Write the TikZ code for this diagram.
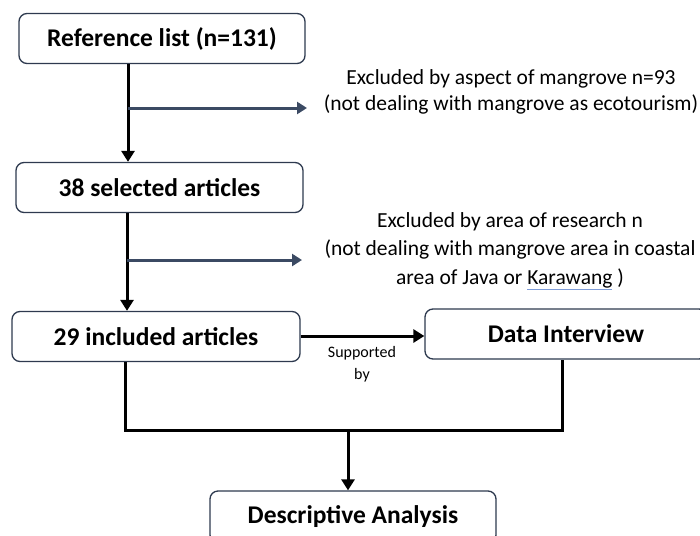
\documentclass[tikz,border=0pt]{standalone}
\usepackage{fontspec}
\setmainfont{Carlito}
\usetikzlibrary{arrows.meta}
\definecolor{navy}{HTML}{2E3A4F}
\definecolor{branch}{HTML}{3B4A63}
\definecolor{squig}{HTML}{7E9CD8}
\begin{document}
\begin{tikzpicture}[x=1pt,y=-1pt,
  box/.style={draw=navy,line width=1.3pt,rounded corners=8pt,fill=white,inner sep=0pt,font=\fontsize{25.5}{30}\selectfont\bfseries},
  flow/.style={draw=black,line width=3pt,-{Triangle[length=11pt,width=13pt]}},
  plain/.style={draw=black,line width=3pt},
  side/.style={draw=branch,line width=3pt,-{Triangle[length=10pt,width=12pt]}},
  note/.style={align=center,font=\fontsize{21.5}{26}\selectfont,inner sep=0pt}]
\useasboundingbox (0,0) rectangle (700,535);
\node[box,minimum width=286pt,minimum height=50pt] (ref) at (162,38.5) {Reference list (n=131)};
\node[box,minimum width=287pt,minimum height=50pt] (sel) at (159.5,187.5) {38 selected articles};
\node[box,minimum width=288pt,minimum height=50pt] (inc) at (156,336.5) {29 included articles};
\node[box,minimum width=282pt,minimum height=50pt] (dat) at (566,334) {Data Interview};
\node[box,minimum width=286pt,minimum height=52pt] (des) at (353,517) {Descriptive Analysis};
\node[note] (ex1) at (511,92) {Excluded by aspect of mangrove n=93\\(not dealing with mangrove as ecotourism)};
\node[note,font=\fontsize{21.5}{28.5}\selectfont] (ex2) at (510,251) {Excluded by area of research n\\(not dealing with mangrove area in coastal\\area of Java or \textcolor{squig}{\underline{\textcolor{black}{Karawang}}} )};
\node[align=center,inner sep=0pt,font=\fontsize{16}{22}\selectfont] (sup) at (362,364) {Supported\\by};
% main flow
\draw[flow] (ref.south -| 128,0) -- (sel.north -| 128,0);
\draw[flow] (sel.south -| 127,0) -- (inc.north -| 127,0);
\coordinate (b1) at (128,108);
\coordinate (b1e) at (307,108);
\coordinate (b2) at (127,260);
\coordinate (b2e) at (302,260);
\draw[side] (b1) -- (b1e);
\draw[side] (b2) -- (b2e);
\draw[flow] (inc.east |- 0,336) -- (dat.west |- 0,336);
\coordinate (jl) at (125,430);
\coordinate (jr) at (562,430);
\coordinate (jm) at (348,430);
\draw[plain] (inc.south -| jl) -- (jl) -- (jr) -- (dat.south -| jr);
\draw[flow] (jm) -- (des.north -| jm);
\end{tikzpicture}
\end{document}
